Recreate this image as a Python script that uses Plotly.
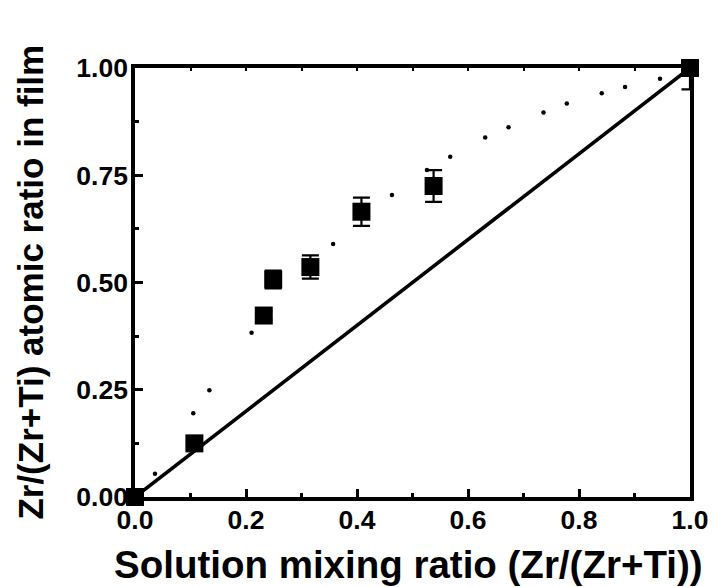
import plotly.graph_objects as go

# Measured data (squares with error bars)
mix_ratio = [0.0, 0.107, 0.232, 0.249, 0.316, 0.408, 0.538, 1.0]
film_ratio = [0.0, 0.125, 0.423, 0.507, 0.536, 0.665, 0.725, 1.0]
film_err = [0.0, 0.0, 0.01, 0.021, 0.027, 0.033, 0.037, 0.05]

# Dotted guide curve (visible dots)
curve_x = [0.036, 0.105, 0.134, 0.210, 0.357, 0.463, 0.526, 0.568, 0.631, 0.673,
           0.736, 0.778, 0.841, 0.883, 0.946]
curve_y = [0.054, 0.195, 0.249, 0.383, 0.590, 0.704, 0.762, 0.793, 0.838, 0.862,
           0.896, 0.917, 0.941, 0.956, 0.975]

# Ideal 1:1 line
ideal_x = [0.0, 1.0]
ideal_y = [0.0, 1.0]

x_ticks = [0.0, 0.2, 0.4, 0.6, 0.8, 1.0]
x_ticklabels = ["0.0", "0.2", "0.4", "0.6", "0.8", "1.0"]
y_ticks = [0.0, 0.25, 0.5, 0.75, 1.0]
y_ticklabels = ["0.00", "0.25", "0.50", "0.75", "1.00"]

FONT = "Liberation Sans, Arial, sans-serif"

fig = go.Figure()

fig.add_trace(go.Scatter(x=ideal_x, y=ideal_y, mode="lines",
                         line=dict(color="black", width=3.6), showlegend=False))

fig.add_trace(go.Scatter(x=curve_x, y=curve_y, mode="markers",
                         marker=dict(color="black", size=4.5), showlegend=False))

# error bars (clipped to plot area)
fig.add_trace(go.Scatter(x=mix_ratio, y=film_ratio, mode="markers",
                         marker=dict(color="rgba(0,0,0,0)", size=1),
                         error_y=dict(type="data", array=film_err, visible=True,
                                      color="black", thickness=2.2, width=8.5),
                         showlegend=False, cliponaxis=True))

# squares (not clipped)
fig.add_trace(go.Scatter(x=mix_ratio, y=film_ratio, mode="markers",
                         marker=dict(color="black", size=18, symbol="square"),
                         showlegend=False, cliponaxis=False))

# invisible trace for the secondary (tick-only) axes
fig.add_trace(go.Scatter(x=[0, 1], y=[0, 1], mode="markers", xaxis="x2", yaxis="y2",
                         marker=dict(color="rgba(0,0,0,0)", size=1), showlegend=False,
                         hoverinfo="skip"))

fig.update_layout(
    width=712, height=579,
    margin=dict(l=127, r=30, t=60, b=90),
    paper_bgcolor="white", plot_bgcolor="white",
    font=dict(family=FONT, color="black"),
    xaxis=dict(range=[0, 1], tickvals=x_ticks, ticktext=x_ticklabels,
               showgrid=False, zeroline=False, showline=True, linecolor="black",
               linewidth=3.5, mirror=True, ticks="inside", ticklen=8, tickwidth=2.5,
               tickcolor="black",
               minor=dict(ticks="inside", ticklen=4, tickwidth=2.5, dtick=0.1,
                          tickcolor="black", showgrid=False),
               tickfont=dict(family=FONT, size=26.5, weight="bold"),
               ticklabelstandoff=-4, automargin=False),
    yaxis=dict(range=[0, 1], tickvals=y_ticks, ticktext=y_ticklabels,
               showgrid=False, zeroline=False, showline=True, linecolor="black",
               linewidth=3.5, mirror=True, ticks="inside", ticklen=8, tickwidth=2.5,
               tickcolor="black",
               minor=dict(ticks="inside", ticklen=4, tickwidth=2.5, dtick=0.125,
                          tickcolor="black", showgrid=False),
               tickfont=dict(family=FONT, size=26.5, weight="bold"),
               ticklabelstandoff=-2, automargin=False),
    xaxis2=dict(range=[0, 1], overlaying="x", side="top", showgrid=False,
                zeroline=False, showline=False, showticklabels=False,
                ticks="inside", ticklen=3, tickwidth=2, tickcolor="black",
                dtick=0.1, tick0=0),
    yaxis2=dict(range=[0, 1], overlaying="y", side="right", anchor="x", showgrid=False,
                zeroline=False, showline=False, showticklabels=False,
                ticks="outside", ticklen=3, tickwidth=2, tickcolor="black",
                dtick=0.125, tick0=0),
    annotations=[
        dict(text="Solution mixing ratio (Zr/(Zr+Ti))", xref="paper", yref="paper",
             x=0.492, y=-0.1585, xanchor="center", yanchor="middle", showarrow=False,
             font=dict(family=FONT, size=38.5, weight="bold", color="black")),
        dict(text="Zr/(Zr+Ti) atomic ratio in film", xref="paper", yref="paper",
             x=-0.189, y=0.5, xanchor="center", yanchor="middle", showarrow=False,
             textangle=-90, borderpad=0,
             font=dict(family=FONT, size=35, weight="bold", color="black")),
    ],
)

fig.write_html("out.html")
